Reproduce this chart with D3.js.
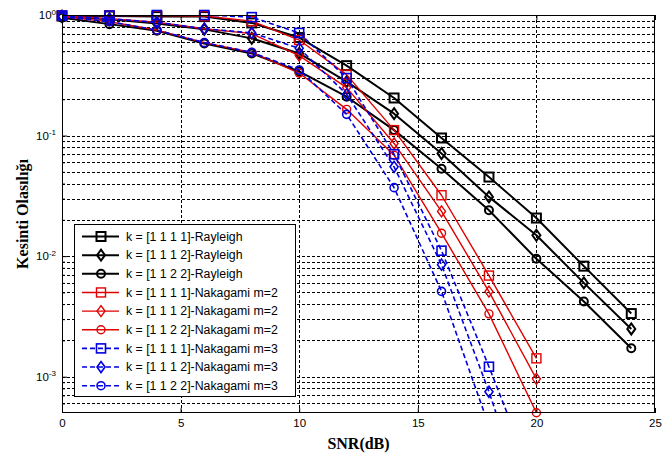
<!DOCTYPE html>
<html>
<head>
<meta charset="utf-8">
<script src="https://cdn.jsdelivr.net/npm/d3@7"></script>
<style>
  html, body { margin: 0; padding: 0; background: #fff; }
  svg { display: block; }
</style>
</head>
<body>
<svg id="chart" width="669" height="458"></svg>
<script>
// ---------------- data ----------------
const snrRayleigh = [0, 2, 4, 6, 8, 10, 12, 14, 16, 18, 20, 22, 24];
const snrNakagami = [0, 2, 4, 6, 8, 10, 12, 14, 16, 18, 20];

const rayleigh1111 = [0.98, 0.98, 0.97, 0.97, 0.86, 0.65, 0.38, 0.205, 0.0955, 0.0453, 0.0207, 0.00826, 0.00334];
const rayleigh1112 = [0.97, 0.92, 0.85, 0.76, 0.64, 0.48, 0.28, 0.152, 0.071, 0.031, 0.0149, 0.006, 0.00249];
const rayleigh1122 = [0.95, 0.84, 0.74, 0.58, 0.48, 0.34, 0.21, 0.111, 0.053, 0.024, 0.0095, 0.0042, 0.00172];

const nakagami2_1111 = [0.99, 0.99, 0.99, 0.98, 0.89, 0.62, 0.32, 0.111, 0.032, 0.0069, 0.00142];
const nakagami2_1112 = [0.98, 0.93, 0.87, 0.77, 0.70, 0.46, 0.25, 0.086, 0.0235, 0.00508, 0.00096];
const nakagami2_1122 = [0.97, 0.88, 0.75, 0.59, 0.49, 0.33, 0.165, 0.0687, 0.0155, 0.00332, 0.000502];

const nakagami3_1111 = [0.99, 0.99, 1.0, 1.0, 0.96, 0.71, 0.30, 0.07, 0.0111, 0.00121, 0.00012];
const nakagami3_1112 = [0.98, 0.93, 0.87, 0.77, 0.71, 0.53, 0.22, 0.055, 0.0085, 0.00075, 0.00005];
const nakagami3_1122 = [0.97, 0.88, 0.75, 0.59, 0.49, 0.35, 0.15, 0.037, 0.0051, 0.00039, 0.00002];

const seriesLabels = [
  "k = [1 1 1 1]-Rayleigh",
  "k = [1 1 1 2]-Rayleigh",
  "k = [1 1 2 2]-Rayleigh",
  "k = [1 1 1 1]-Nakagami m=2",
  "k = [1 1 1 2]-Nakagami m=2",
  "k = [1 1 2 2]-Nakagami m=2",
  "k = [1 1 1 1]-Nakagami m=3",
  "k = [1 1 1 2]-Nakagami m=3",
  "k = [1 1 2 2]-Nakagami m=3"
];
const xTicks = [0, 5, 10, 15, 20, 25];
const yTicks = [1e-3, 1e-2, 1e-1, 1];
const xLabel = "SNR(dB)";
const yLabel = "Kesinti Olasılığı";

// ---------------- layout ----------------
const pLeft = 62, pRight = 655, pTop = 15, pBottom = 413;
const x = d3.scaleLinear().domain([0, 25]).range([pLeft, pRight]);
const y = d3.scaleLog().domain([0.0005, 1]).range([pBottom, pTop]);

const svg = d3.select("#chart");
const sansFont = "'Liberation Sans', Arial, sans-serif";
const serifFont = "'Liberation Serif', 'Times New Roman', serif";

const styles = [
  { color: "#000000", dash: null, width: 2, marker: "square" },
  { color: "#000000", dash: null, width: 2, marker: "diamond" },
  { color: "#000000", dash: null, width: 2, marker: "circle" },
  { color: "#e00000", dash: null, width: 1.4, marker: "square" },
  { color: "#e00000", dash: null, width: 1.4, marker: "diamond" },
  { color: "#e00000", dash: null, width: 1.4, marker: "circle" },
  { color: "#0000e0", dash: "5,3", width: 1.6, marker: "square" },
  { color: "#0000e0", dash: "5,3", width: 1.6, marker: "diamond" },
  { color: "#0000e0", dash: "5,3", width: 1.6, marker: "circle" }
];
const seriesValues = [rayleigh1111, rayleigh1112, rayleigh1122,
  nakagami2_1111, nakagami2_1112, nakagami2_1122,
  nakagami3_1111, nakagami3_1112, nakagami3_1122];
const seriesX = [snrRayleigh, snrRayleigh, snrRayleigh,
  snrNakagami, snrNakagami, snrNakagami,
  snrNakagami, snrNakagami, snrNakagami];

const series = seriesValues.map((vals, i) => ({
  label: seriesLabels[i],
  style: styles[i],
  points: vals.map((v, j) => ({ x: seriesX[i][j], y: v }))
}));

// background
svg.append("rect").attr("x", 0).attr("y", 0).attr("width", 669).attr("height", 458).attr("fill", "#fff");

// clip
svg.append("defs").append("clipPath").attr("id", "plotclip")
  .append("rect").attr("x", pLeft).attr("y", pTop).attr("width", pRight - pLeft).attr("height", pBottom - pTop);

// ---------------- grid ----------------
const grid = svg.append("g").attr("stroke", "#000").attr("stroke-width", 1)
  .attr("stroke-dasharray", "3,2").attr("shape-rendering", "crispEdges");
xTicks.filter(t => t > 0 && t < 25).forEach(t => {
  grid.append("line").attr("x1", Math.round(x(t)) + 0.5).attr("x2", Math.round(x(t)) + 0.5)
    .attr("y1", pTop).attr("y2", pBottom);
});
const minorVals = [];
for (let e = -4; e <= 0; e++) {
  for (let d = 1; d <= 9; d++) {
    const v = d * Math.pow(10, e);
    if (v > 0.0005 * 1.0001 && v < 0.9999) minorVals.push(v);
  }
}
minorVals.forEach(v => {
  grid.append("line").attr("x1", pLeft).attr("x2", pRight)
    .attr("y1", Math.round(y(v)) + 0.5).attr("y2", Math.round(y(v)) + 0.5);
});

// ---------------- axes ----------------
const axisG = svg.append("g");
const xAxis = d3.axisBottom(x).tickValues(xTicks).tickSize(-5).tickPadding(6).tickFormat(d3.format("d"));
const gx = axisG.append("g").attr("transform", `translate(0,${pBottom})`).call(xAxis);
gx.select(".domain").remove();
gx.selectAll("text").attr("font-family", sansFont).attr("font-size", 11.5).attr("fill", "#000");

const xAxisTop = d3.axisTop(x).tickValues(xTicks).tickSize(-5).tickFormat("");
const gxt = axisG.append("g").attr("transform", `translate(0,${pTop})`).call(xAxisTop);
gxt.select(".domain").remove();

const yAxis = d3.axisLeft(y).tickValues(yTicks).tickSize(-5).tickPadding(6).tickFormat(() => "");
const gy = axisG.append("g").attr("transform", `translate(${pLeft},0)`).call(yAxis);
gy.select(".domain").remove();
gy.selectAll("text").each(function (d) {
  const t = d3.select(this).attr("font-family", sansFont).attr("font-size", 11.5).attr("fill", "#000");
  t.append("tspan").text("10");
  t.append("tspan").attr("dy", "-0.55em").attr("font-size", 8).text(String(Math.round(Math.log10(d))));
});

const yAxisRight = d3.axisRight(y).tickValues(yTicks).tickSize(-5).tickFormat("");
const gyr = axisG.append("g").attr("transform", `translate(${pRight},0)`).call(yAxisRight);
gyr.select(".domain").remove();

// minor ticks on log axis
const minorTickVals = minorVals.filter(v => !yTicks.some(t => Math.abs(t - v) / t < 1e-6));
const gyMinor = axisG.append("g").attr("transform", `translate(${pLeft},0)`)
  .call(d3.axisLeft(y).tickValues(minorTickVals).tickSize(-3).tickFormat(""));
gyMinor.select(".domain").remove();
const gyMinorR = axisG.append("g").attr("transform", `translate(${pRight},0)`)
  .call(d3.axisRight(y).tickValues(minorTickVals).tickSize(-3).tickFormat(""));
gyMinorR.select(".domain").remove();

// ---------------- series ----------------
const line = d3.line().x(d => x(d.x)).y(d => y(d.y));
const plot = svg.append("g");

function drawMarker(g, type, cx, cy, color, sw) {
  if (type === "square") {
    g.append("rect").attr("x", cx - 4.5).attr("y", cy - 4.5).attr("width", 9).attr("height", 9)
      .attr("fill", "none").attr("stroke", color).attr("stroke-width", sw);
  } else if (type === "diamond") {
    g.append("path").attr("d", `M${cx},${cy - 5.5}L${cx + 4},${cy}L${cx},${cy + 5.5}L${cx - 4},${cy}Z`)
      .attr("fill", "none").attr("stroke", color).attr("stroke-width", sw);
  } else {
    g.append("circle").attr("cx", cx).attr("cy", cy).attr("r", 4)
      .attr("fill", "none").attr("stroke", color).attr("stroke-width", sw);
  }
}

series.forEach(s => {
  plot.append("path").datum(s.points)
    .attr("clip-path", "url(#plotclip)")
    .attr("d", line)
    .attr("fill", "none")
    .attr("stroke", s.style.color)
    .attr("stroke-width", s.style.width)
    .attr("stroke-dasharray", s.style.dash)
    .attr("stroke-linejoin", "round");
  const mg = plot.append("g");
  s.points.filter(p => p.y >= 0.0005).forEach(p => {
    drawMarker(mg, s.style.marker, x(p.x), y(p.y), s.style.color, s.style.width);
  });
});

// box
svg.append("rect").attr("x", pLeft + 0.5).attr("y", pTop + 0.5)
  .attr("width", pRight - pLeft - 1).attr("height", pBottom - pTop - 1)
  .attr("fill", "none").attr("stroke", "#000").attr("stroke-width", 1).attr("shape-rendering", "crispEdges");

// ---------------- legend ----------------
const lg = svg.append("g");
lg.append("rect").attr("x", 74.5).attr("y", 224.5).attr("width", 221).attr("height", 172)
  .attr("fill", "#fff").attr("stroke", "#000").attr("stroke-width", 1).attr("shape-rendering", "crispEdges");
series.forEach((s, i) => {
  const cy = 236.5 + i * 18.65;
  lg.append("line").attr("x1", 82).attr("x2", 119).attr("y1", cy).attr("y2", cy)
    .attr("stroke", s.style.color).attr("stroke-width", s.style.width)
    .attr("stroke-dasharray", s.style.dash);
  drawMarker(lg, s.style.marker, 101, cy, s.style.color, s.style.width);
  lg.append("text").attr("x", 126).attr("y", cy + 4.3)
    .attr("font-family", sansFont).attr("font-size", 12.3).attr("fill", "#000")
    .text(s.label);
});

// ---------------- axis labels ----------------
svg.append("text").attr("x", (pLeft + pRight) / 2).attr("y", 449)
  .attr("text-anchor", "middle").attr("font-family", serifFont).attr("font-weight", "bold")
  .attr("font-size", 16).attr("fill", "#000").text(xLabel);
svg.append("text").attr("transform", `translate(28,${(pTop + pBottom) / 2}) rotate(-90)`)
  .attr("text-anchor", "middle").attr("font-family", serifFont).attr("font-weight", "bold")
  .attr("font-size", 16).attr("fill", "#000").text(yLabel);
</script>
</body>
</html>
